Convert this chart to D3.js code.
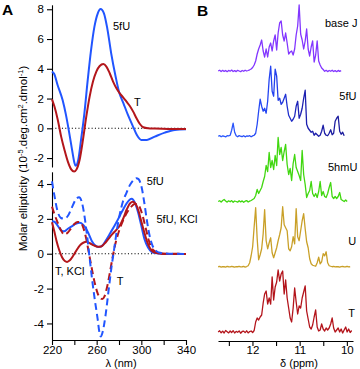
<!DOCTYPE html>
<html><head><meta charset="utf-8">
<script src="https://cdn.jsdelivr.net/npm/d3@7"></script>
<style>body{margin:0;background:#fff}svg{display:block}text{font-family:"Liberation Sans",Arial,Helvetica,sans-serif;fill:#000}</style>
</head><body><svg id="c" width="360" height="369"></svg>
<script>
// ---------- Panel A : CD spectra (wavelength nm, ellipticity 10^5 deg cm2 dmol-1) ----------
const wlTicks = [220, 240, 260, 280, 300, 320, 340];
const wlLabels = [220, 260, 300, 340];
const topTicks = [-2, 0, 2, 4, 6, 8];
const lowTicks = [-4, -2, 0, 2, 4];

const top5fU = [[220,3.81],[222,3.65],[225,2.91],[229.5,1.90],[232.5,0.90],[235.5,-0.34],[238.5,-1.68],[240,-2.3],[241,-2.51],[242.2,-2.45],[243.5,-2.13],[246,-0.78],[249,1.01],[252,3.25],[255,5.27],[258,6.83],[261,7.73],[263.5,8.02],[266.5,7.73],[269.5,6.72],[273,5.04],[277,3.47],[280,2.46],[284,1.68],[288,0.90],[292,0.22],[296,-0.45],[300,-0.78],[305,-0.78],[312,-0.56],[321,-0.29],[330,-0.11],[340,-0.07]];
const topT = [[220,1.95],[222.2,1.46],[225.2,0.56],[228.2,-0.56],[231.2,-1.46],[234.2,-2.24],[237.2,-2.76],[239.8,-2.91],[242,-2.76],[244.7,-2.13],[247.7,-0.78],[250.7,0.78],[253.7,2.13],[256.7,3.14],[259.7,3.81],[262.7,4.19],[266,4.32],[268.7,4.15],[271.7,3.70],[274.7,3.14],[277.7,2.69],[280.7,2.35],[283.7,2.08],[286.7,1.79],[289.7,1.50],[292.7,1.12],[295.7,0.67],[298.7,0.29],[301.7,0.07],[306,0.0],[312,-0.02],[324,-0.04],[333,-0.04],[340,-0.04]];

const low5fU = [[220,4.15],[222,3.39],[225,2.43],[228,2.05],[231,2.01],[234,2.15],[237.6,2.62],[241.2,3.10],[244.2,3.24],[246.5,3.01],[248.9,2.24],[251.3,1.10],[253.7,-0.24],[256.1,-1.57],[258.5,-2.72],[260.9,-3.75],[262.3,-4.45],[263.7,-4.75],[265.3,-4.5],[267.8,-3.6],[270.6,-2.15],[273.2,-0.81],[275.8,0.33],[278.2,1.39],[280.6,2.24],[283.6,3.01],[286.6,3.48],[289.6,3.92],[292.6,4.2],[295.5,4.33],[297.5,4.28],[300.4,3.77],[302.7,2.91],[305.1,1.86],[307.5,1.0],[309.9,0.48],[312.9,0.18],[316.8,0.05],[324.3,0.0],[340,-0.01]];
const low5fUKCl = [[220,1.86],[222.5,1.82],[225.5,1.57],[228.5,1.33],[230.9,1.29],[233.9,1.42],[237.6,1.57],[241.2,1.71],[244.8,1.77],[247.8,1.67],[250.1,1.48],[252.5,1.19],[255.5,0.75],[258.5,0.49],[261.5,0.39],[263.9,0.41],[266.3,0.56],[269.3,0.87],[272.2,1.19],[275.2,1.52],[278.2,1.86],[281.2,2.24],[284.2,2.6],[287,2.9],[289.5,3.1],[291.5,3.15],[294,2.95],[297,2.4],[300,1.6],[303,0.8],[306,0.35],[309.4,0.1],[313.9,0.03],[321.4,-0.01],[340,-0.01]];
const lowT = [[220,2.7],[222,2.3],[225,1.8],[228,1.35],[231,1.1],[234,1.2],[237,1.45],[240,1.7],[243,1.82],[245.5,1.8],[248,1.5],[250.5,0.9],[253,0.05],[255.5,-0.8],[258,-1.6],[260.5,-2.2],[263,-2.55],[265,-2.6],[267,-2.45],[269,-2.0],[271.5,-1.2],[274,-0.3],[276.5,0.5],[279,1.1],[282,1.65],[285,2.1],[288,2.45],[291,2.7],[294,2.85],[296.5,2.85],[299,2.6],[301.5,2.1],[304,1.45],[306.5,0.8],[309,0.35],[312.5,0.12],[316,0.04],[322,0.0],[340,-0.01]];
const lowTKCl = [[220,1.8],[222,1.3],[224,0.75],[226.5,0.2],[229,-0.2],[231.5,-0.42],[233.5,-0.47],[236,-0.38],[239,-0.12],[242,0.2],[245,0.48],[248,0.63],[251,0.68],[254,0.6],[257.5,0.48],[261,0.4],[264,0.42],[267,0.58],[270.5,0.85],[274,1.12],[278,1.4],[281,1.65],[284,2.05],[287,2.55],[290,2.9],[292.5,2.98],[295,2.85],[297.5,2.45],[300,1.85],[303,1.15],[306,0.55],[309,0.2],[313,0.05],[318,0.0],[330,-0.02],[340,-0.02]];

// ---------- Panel B : 1H NMR imino region (ppm grid + intensities) ----------
const ppmTicks = [12.5, 12, 11.5, 11, 10.5, 10];
const ppmLabels = [12, 11, 10];
const spectra = ["base J", "5fU", "5hmU", "U", "T"];
const ppmGrid = [12.727,12.695,12.663,12.631,12.600,12.568,12.536,12.504,12.472,12.441,12.409,12.377,12.345,12.314,12.282,12.250,12.218,12.186,12.155,12.123,12.091,12.059,12.028,11.996,11.964,11.932,11.900,11.869,11.837,11.805,11.773,11.742,11.710,11.678,11.646,11.614,11.583,11.551,11.519,11.487,11.456,11.424,11.392,11.360,11.328,11.297,11.265,11.233,11.201,11.170,11.138,11.106,11.074,11.042,11.011,10.979,10.947,10.915,10.883,10.852,10.820,10.788,10.756,10.725,10.693,10.661,10.629,10.597,10.566,10.534,10.502,10.470,10.439,10.407,10.375,10.343,10.311,10.280,10.248,10.216,10.184,10.152,10.121,10.089,10.057,10.025,9.994,9.962,9.930,9.898];
const intBaseJ = [0,0.8,-0.5,0.7,-0.4,0.5,-0.7,0.6,-0.2,0.9,-0.5,0.4,-0.6,0.7,0,-0.7,0.5,-0.3,0.8,0,0.5,1.2,2,3.5,6,10,17,22,26,31,20,14,22,14,24,28,20,30,36,21,38,48,50,36,30,38,28,17,19,20,16,22,36,45,66,37,31,22,30,42,22,15,24,30,9,16,30,10,6,3,1.5,-0.3,0.7,-0.6,0.5,-0.3,0.8,-0.5,0.4,-0.7,0.6,-0.4,0.3,null,null,null,null,null,null,null];
const int5fU = [0,0.6,-0.5,0.4,0,-0.6,0.5,0.3,1,6,13,4,0.5,-0.5,0.6,0,-0.4,0.5,-0.6,0.3,0,0.6,-0.5,0.4,1,3,12,25,37,30,25,28,23,35,57,70,45,40,67,60,36,38,32,34,38,42,30,21,18,15,17,20,30,35,18,22,28,38,46,12,8,6,4,5,1,3,1.5,0,1,5,11,3,1,0.5,3,6.5,1.5,3,15,18,20,5,2,4,0.5,null,null,null,null,null];
const int5hmU = [0,0.8,-0.6,1,2,0.5,-0.6,0.7,-0.3,0.9,-0.8,0.5,0,-0.7,0.8,-0.4,0.6,-0.8,0.3,0.9,-0.5,0.4,1,2,3,6,12,8,11,14,20,25,36,30,49,34,41,32,46,36,64,47,54,41,50,57,37,27,33,21,38,47,34,30,26,21,51,27,17,4,8,11,20,8,5,8,4,10,20,6,10,5,4,8,14,19,5,3,5,3,5,9,2,1,0,1.5,0,null,null,null,null];
const intU = [0,0.3,-0.3,0.2,0,-0.3,0.3,0,-0.2,0.3,0,-0.3,0.2,0,0.3,-0.2,0,0.3,-0.3,0.2,1,4,11,20,40,59,28,7,12,18,33,57,26,18,24,29,14,9,14,19,26,32,39,60,42,39,36,18,16,20,30,23,58,30,26,36,46,53,38,25,19,8,3,1.5,1,0.5,4,9.5,3,5,13,11,15,4,1,0.5,0,0.3,-0.2,0.2,0,-0.3,0.2,0.4,-0.2,0,0.3,-0.2,0,null,null];
const intT = [0,1.2,-0.8,0.9,-1,1.5,0.3,-0.9,1,-0.5,1.3,-1,0.6,-0.3,1.1,-1.2,0.5,0.9,-0.6,1.2,-0.9,0.4,1,-0.5,1.5,10,14,12,15,17,29,38,41,28,34,28,55,32,45,50,62,51,58,61,38,52,34,24,14,10,24,44,30,18,26,24,34,40,46,21,13,5,3,7,15,22,5,1,2,8,3,1,4,2,4,8,14,4,0,2,4,0,3,-1,2,5,0,3,-0.5,1.5];
const specInts = [intBaseJ, int5fU, int5hmU, intU, intT];
const specColors = ["#8236ff", "url(#g5fU)", "#40d70f", "#c9a028", "#b3141b"];

// ---------- drawing ----------
const svg = d3.select("#c");
const blue = "#2155ff", red = "#b3161b";
const defs = svg.append("defs");
const gr = defs.append("linearGradient").attr("id","g5fU").attr("gradientUnits","userSpaceOnUse")
  .attr("x1",218).attr("x2",350).attr("y1",0).attr("y2",0);
[[0,"#2d5cff"],[0.42,"#2342f0"],[0.62,"#1c1fb2"],[1,"#1b1b98"]].forEach(s=>gr.append("stop").attr("offset",s[0]).attr("stop-color",s[1]));

const xA = d3.scaleLinear().domain([220, 340]).range([52, 186]);
const yTop = d3.scaleLinear().domain([-2.6, 8.3]).range([167, 4.8]);
const yLow = d3.scaleLinear().domain([-4.95, 4.7]).range([340, 171.8]);

function styleAxis(g){
  g.selectAll("path.domain").attr("stroke","#000").attr("stroke-width",1.1);
  g.selectAll(".tick line").attr("stroke","#000").attr("stroke-width",1.1);
  g.selectAll(".tick text").attr("font-size","11.5px").attr("fill","#000")
   .attr("font-family",'"Liberation Sans",Arial,sans-serif');
}
const fmt = d => String(d);
svg.append("g").attr("transform","translate(52,0)")
  .call(d3.axisLeft(yTop).tickValues(topTicks).tickFormat(fmt).tickSize(5).tickSizeOuter(0).tickPadding(3)).call(styleAxis);
svg.append("g").attr("transform","translate(52,0)")
  .call(d3.axisLeft(yLow).tickValues(lowTicks).tickFormat(fmt).tickSize(5).tickSizeOuter(0).tickPadding(3)).call(styleAxis);
svg.append("g").attr("transform","translate(0,340)")
  .call(d3.axisBottom(xA).tickValues(wlTicks).tickFormat(d => wlLabels.includes(d) ? d : "").tickSize(5).tickSizeOuter(0).tickPadding(0.5)).call(styleAxis);

// zero lines
[[yTop],[yLow]].forEach(([ys]) => {
  svg.append("line").attr("x1", xA(220)).attr("x2", xA(340)).attr("y1", ys(0)).attr("y2", ys(0))
    .attr("stroke","#000").attr("stroke-width",1.1).attr("stroke-dasharray","1.1,2.2");
});

const lineTop = d3.line().x(d=>xA(d[0])).y(d=>yTop(d[1])).curve(d3.curveMonotoneX);
const lineLow = d3.line().x(d=>xA(d[0])).y(d=>yLow(d[1])).curve(d3.curveMonotoneX);
function curve(data, gen, color, dash){
  svg.append("path").datum(data).attr("d", gen).attr("fill","none").attr("stroke",color)
    .attr("stroke-width",2).attr("stroke-linejoin","round").attr("stroke-dasharray", dash || null);
}
curve(top5fU, lineTop, blue);
curve(topT, lineTop, red);
curve(low5fUKCl, lineLow, blue);
curve(lowTKCl, lineLow, red);
curve(lowT, lineLow, red, "7,4");
curve(low5fU, lineLow, blue, "7,4");

function label(t, x, y, size, weight){
  return svg.append("text").attr("x",x).attr("y",y).attr("font-size",(size||11)+"px")
    .attr("font-weight",weight||"normal").text(t);
}
label("5fU", 113, 30.3);
label("T", 134, 106);
label("5fU", 146.7, 185);
label("5fU, KCl", 156.5, 223.3);
label("T, KCl", 55, 275);
label("T", 116.7, 285);
label("A", 2, 15, 15.5, "bold");
label("B", 197, 16, 15.5, "bold");

// y title with superscripts
const yt = svg.append("text").attr("transform","translate(26.5,158.5) rotate(-90)")
  .attr("text-anchor","middle").attr("font-size","11.5px");
yt.append("tspan").text("Molar ellipticity (10");
yt.append("tspan").attr("dy",-4).attr("font-size","7.5px").text("-5");
yt.append("tspan").attr("dy",4).text(".deg.cm");
yt.append("tspan").attr("dy",-4).attr("font-size","7.5px").text("2");
yt.append("tspan").attr("dy",4).text(".dmol");
yt.append("tspan").attr("dy",-4).attr("font-size","7.5px").text("-1");
yt.append("tspan").attr("dy",4).text(")");

svg.append("text").attr("x",121).attr("y",367).attr("text-anchor","middle").attr("font-size","11px").text("λ (nm)");

// Panel B
const xB = d3.scaleLinear().domain([12.73, 9.87]).range([218, 353]);
const base = d3.scalePoint().domain(spectra).range([71, 332]);
const yInt = d3.scaleLinear().domain([0, 70]).range([0, 70]);
svg.append("g").attr("transform","translate(0,341)")
  .call(d3.axisBottom(xB).tickValues(ppmTicks).tickFormat(d => ppmLabels.includes(d) ? d : "").tickSize(5).tickSizeOuter(0).tickPadding(0)).call(styleAxis);
svg.append("text").attr("x",299).attr("y",367).attr("text-anchor","middle").attr("font-size","11px").text("δ (ppm)");

spectra.forEach((name, k) => {
  const vals = specInts[k];
  const pts = ppmGrid.map((p, i) => [p, vals[i]]);
  const gen = d3.line().defined(d => d[1] !== null && d[1] !== undefined)
    .x(d => xB(d[0])).y(d => base(name) - yInt(d[1]));
  svg.append("path").datum(pts).attr("d", gen).attr("fill","none").attr("stroke", specColors[k])
    .attr("stroke-width",1.3).attr("stroke-linejoin","round");
});
const bLabels = [["base J",325,26.5],["5fU",339.3,100],["5hmU",328,171],["U",348.3,245],["T",348.3,317]];
bLabels.forEach(b => label(b[0], b[1], b[2]));
</script></body></html>
